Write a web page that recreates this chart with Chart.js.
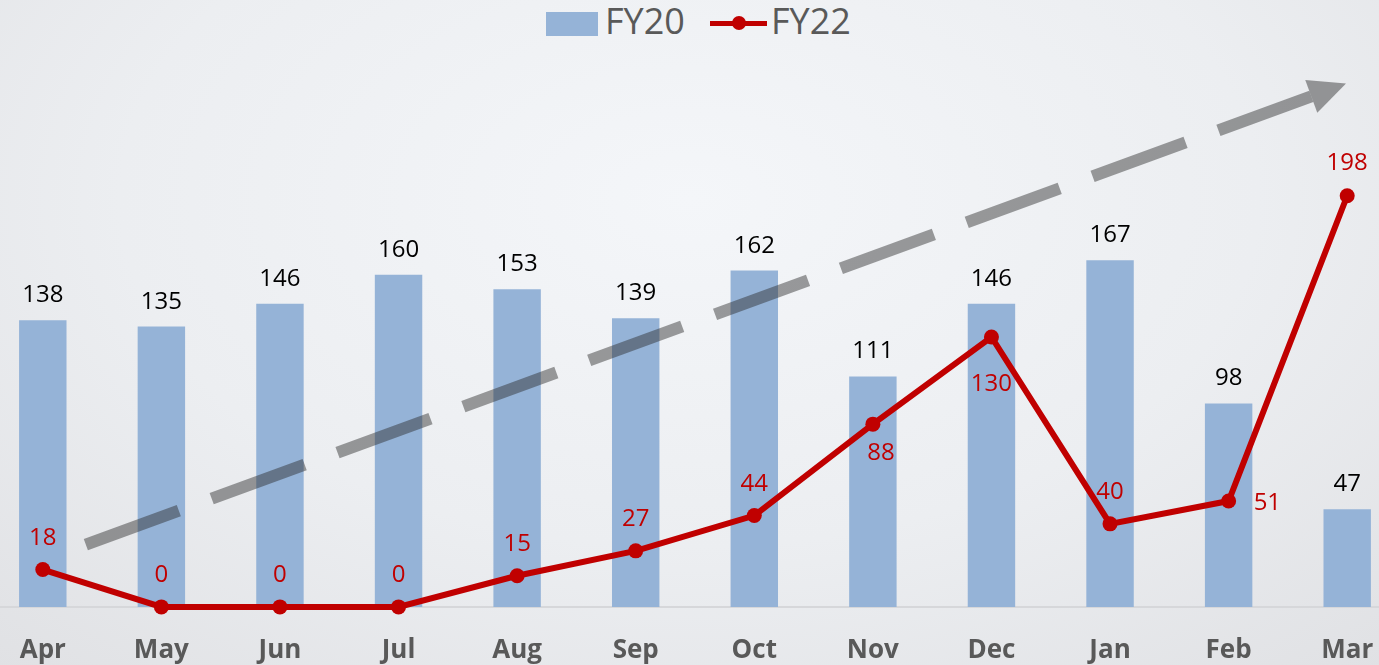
<!DOCTYPE html>
<html>
<head>
<meta charset="utf-8">
<script src="https://cdn.jsdelivr.net/npm/chart.js@4"></script>
<style>
  html, body { margin:0; padding:0; width:1379px; height:665px; overflow:hidden; }
  body { position:relative; background: radial-gradient(ellipse 75% 95% at 50% 30%, #f4f6f9 0%, #eceef1 55%, #e0e1e4 100%); font-family:"Open Sans", sans-serif; }
  #wrap { position:absolute; left:-24px; top:0; width:1438px; height:695px; }
  .lg { position:absolute; }
  .lgtext { position:absolute; top:-2px; height:46px; line-height:46px; font-size:36px; color:#595959; font-family:"Open Sans", sans-serif; white-space:nowrap; }
</style>
</head>
<body>
<div class="lg" style="left:546px;top:12px;width:52px;height:24px;background:#95b3d7;"></div>
<div class="lgtext" style="left:605px;">FY20</div>
<div class="lg" style="left:710px;top:20.5px;width:57px;height:5px;background:#c00000;"></div>
<div class="lg" style="left:731.5px;top:16px;width:14px;height:14px;border-radius:50%;background:#c00000;"></div>
<div class="lgtext" style="left:771px;">FY22</div>
<div id="wrap"><canvas id="c"></canvas></div>
<script>
const months = ['Apr','May','Jun','Jul','Aug','Sep','Oct','Nov','Dec','Jan','Feb','Mar'];
const fy20 = [138,135,146,160,153,139,162,111,146,167,98,47];
const fy22 = [18,0,0,0,15,27,44,88,130,40,51,198];
const seriesNames = ['FY20','FY22'];

// label placement for FY22 values (relative to point)
const fy22LabelPlacement = [
  {dx:0,dy:-25,align:'center'},{dx:0,dy:-25,align:'center'},{dx:0,dy:-25,align:'center'},
  {dx:0,dy:-25,align:'center'},{dx:0,dy:-25,align:'center'},{dx:0,dy:-25,align:'center'},
  {dx:0,dy:-25,align:'center'},{dx:8,dy:36,align:'center'},{dx:0,dy:54,align:'center'},
  {dx:0,dy:-25,align:'center'},{dx:25,dy:9,align:'left'},{dx:0,dy:-26,align:'center'}
];

const labelPlugin = {
  id:'valueLabels',
  afterDatasetsDraw(chart){
    const ctx = chart.ctx;
    const x = chart.scales.x, y = chart.scales.y;
    // trend arrow (annotation in data coordinates)
    const a0 = {x:x.getPixelForValue(0.363), y:y.getPixelForValue(30)};
    const a1 = {x:x.getPixelForValue(10.99), y:y.getPixelForValue(252)};
    const dx = a1.x - a0.x, dy = a1.y - a0.y;
    const len = Math.hypot(dx, dy);
    const ux = dx/len, uy = dy/len;
    const headLen = 37, headHalf = 17.5;
    const bx = a1.x - ux*headLen, by = a1.y - uy*headLen;
    ctx.save();
    ctx.strokeStyle = 'rgba(40,40,40,0.45)';
    ctx.fillStyle = 'rgba(40,40,40,0.45)';
    ctx.lineWidth = 12;
    ctx.lineCap = 'butt';
    ctx.setLineDash([99,35]);
    ctx.beginPath();
    ctx.moveTo(a0.x, a0.y);
    ctx.lineTo(bx, by);
    ctx.stroke();
    ctx.setLineDash([]);
    ctx.beginPath();
    ctx.moveTo(a1.x, a1.y);
    ctx.lineTo(bx - uy*headHalf, by + ux*headHalf);
    ctx.lineTo(bx + uy*headHalf, by - ux*headHalf);
    ctx.closePath();
    ctx.fill();
    ctx.restore();

    ctx.save();
    ctx.font = '24px "Open Sans"';
    ctx.textBaseline = 'alphabetic';
    // bar labels
    const barMeta = chart.getDatasetMeta(1);
    ctx.fillStyle = '#000000';
    ctx.textAlign = 'center';
    barMeta.data.forEach((el, i) => {
      ctx.fillText(String(fy20[i]), el.x, el.y - 18);
    });
    // line labels
    const lineMeta = chart.getDatasetMeta(0);
    ctx.fillStyle = '#c00000';
    lineMeta.data.forEach((el, i) => {
      const p = fy22LabelPlacement[i];
      ctx.textAlign = p.align;
      ctx.fillText(String(fy22[i]), el.x + p.dx, el.y + p.dy);
    });
    ctx.restore();
  }
};

new Chart(document.getElementById('c'), {
  type:'bar',
  data:{
    labels: months,
    datasets:[
      {
        type:'line', label: seriesNames[1], data: fy22, order:0,
        borderColor:'#c00000', backgroundColor:'#c00000', borderWidth:6,
        pointRadius:7.5, pointHoverRadius:7.5, pointBackgroundColor:'#c00000', pointBorderWidth:0,
        tension:0, clip:false
      },
      {
        type:'bar', label: seriesNames[0], data: fy20, order:1,
        backgroundColor:'#95b3d7', borderWidth:0,
        barPercentage:0.4, categoryPercentage:1.0
      }
    ]
  },
  options:{
    responsive:true, maintainAspectRatio:false, animation:false,
    layout:{ padding:{ top:67, bottom:0, left:0, right:0 } },
    plugins:{ legend:{ display:false }, tooltip:{ enabled:false } },
    scales:{
      x:{
        offset:true,
        grid:{ display:false, drawTicks:false },
        border:{ display:true, color:'#d6d7da', width:2 },
        ticks:{ padding:30, color:'#595959', font:{ family:'"Open Sans"', size:26, weight:'bold', lineHeight:1.08 } }
      },
      y:{ display:false, min:0, max:260 }
    }
  },
  plugins:[labelPlugin]
});
</script>
</body>
</html>
